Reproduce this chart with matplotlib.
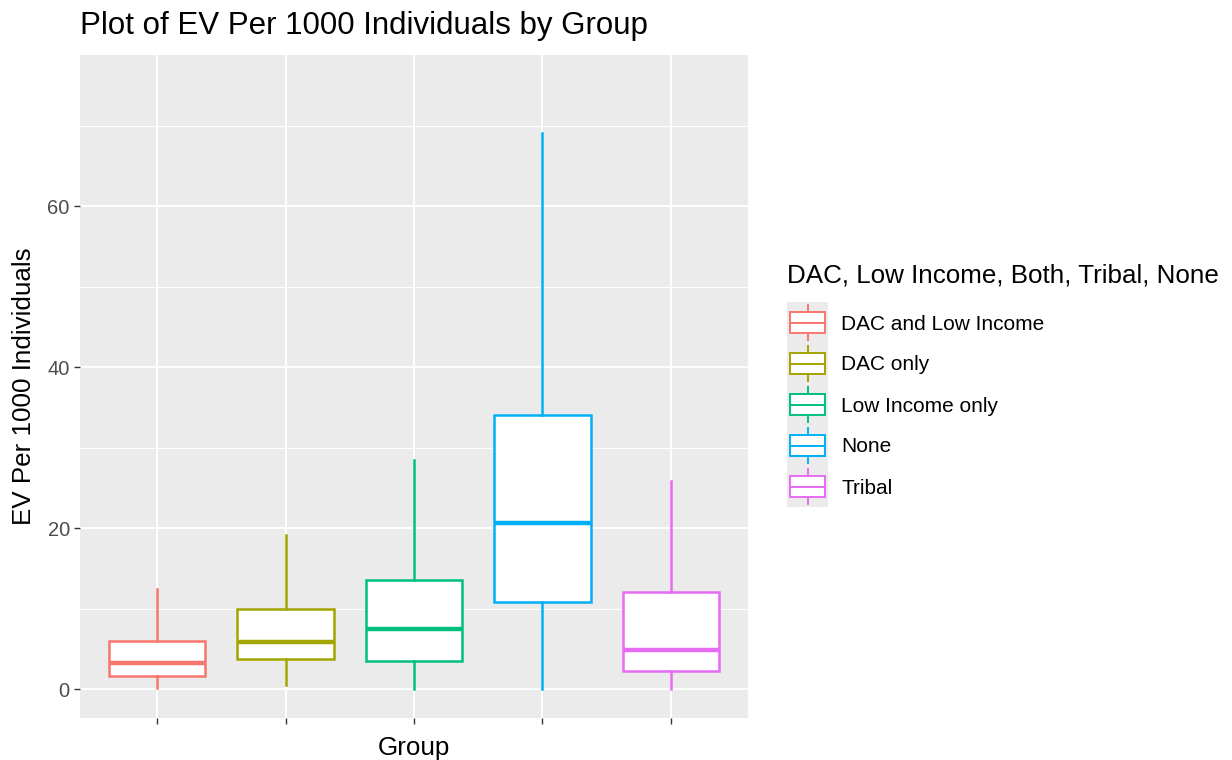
import matplotlib
matplotlib.use("Agg")
import matplotlib.pyplot as plt
from matplotlib.patches import Rectangle
from matplotlib.ticker import MultipleLocator

plt.rcParams['font.family'] = ['Liberation Sans', 'DejaVu Sans']

# box summaries read per group: whisker low, Q1, median, Q3, whisker high
groups = ['DAC and Low Income', 'DAC only', 'Low Income only', 'None', 'Tribal']
whis_lo = [0.1, 0.55, 0.0, 0.0, 0.0]
q1 = [1.6, 3.7, 3.5, 10.8, 2.2]
median = [3.2, 5.8, 7.5, 20.6, 4.9]
q3 = [6.0, 10.0, 13.5, 34.1, 12.0]
whis_hi = [12.4, 19.1, 28.5, 69.1, 25.9]
colors = ['#F8766D', '#A3A500', '#00BF7D', '#00B0F6', '#E76BF3']

W, H = 1232, 760
fig = plt.figure(figsize=(W / 100, H / 100), dpi=100)
ax = fig.add_axes([80 / W, 1 - 718 / H, (748 - 80) / W, (718 - 55) / H])
ax.set_facecolor('#EBEBEB')
for s in ax.spines.values():
    s.set_visible(False)

stats = []
for i, g in enumerate(groups):
    stats.append(dict(label=g, whislo=whis_lo[i], q1=q1[i], med=median[i],
                      q3=q3[i], whishi=whis_hi[i], fliers=[]))

positions = list(range(1, len(groups) + 1))
bp = ax.bxp(stats, positions=positions, widths=0.75, showcaps=False,
            showfliers=False, patch_artist=True, zorder=3)
for i, c in enumerate(colors):
    bp['boxes'][i].set(facecolor='white', edgecolor=c, linewidth=1.8)
    bp['medians'][i].set(color=c, linewidth=3.2, solid_capstyle='butt')
    for w in bp['whiskers'][2 * i:2 * i + 2]:
        w.set(color=c, linewidth=1.8)

ax.set_xlim(0.4, 5.6)
ax.set_ylim(-3.6, 78.8)
ax.yaxis.set_major_locator(MultipleLocator(20))
ax.yaxis.set_minor_locator(MultipleLocator(10))
ax.set_xticks(positions)
ax.set_xticklabels([])
ax.grid(which='major', color='white', linewidth=1.4, zorder=0)
ax.grid(which='minor', axis='y', color='white', linewidth=0.7, zorder=0)
ax.set_axisbelow(True)
ax.tick_params(which='major', length=4.3, width=1.0, color='#333333',
               labelcolor='#4D4D4D', labelsize=14.5, pad=3)
ax.tick_params(which='minor', length=0)

ax.set_xlabel('Group', fontsize=18.75, labelpad=6)
ax.set_ylabel('EV Per 1000 Individuals', fontsize=18.75, labelpad=8)
fig.text(80 / W, 1 - 26 / H, 'Plot of EV Per 1000 Individuals by Group',
         fontsize=22.5, va='center', ha='left')

# legend: box glyph keys on a grey strip with labels to the right
fig.text(787 / W, 1 - 276 / H, 'DAC, Low Income, Both, Tribal, None',
         fontsize=18.75, va='center', ha='left')
lax = fig.add_axes([787 / W, 1 - 507 / H, 41 / W, 205 / H])
lax.set_xlim(0, 1)
lax.set_ylim(0, len(groups))
lax.axis('off')
lax.add_patch(Rectangle((0, 0), 1, len(groups), facecolor='#EBEBEB',
                        edgecolor='none', zorder=0))
for i, (g, c) in enumerate(zip(groups, colors)):
    yc = len(groups) - i - 0.5
    lax.plot([0.5, 0.5], [yc - 0.42, yc + 0.42], color=c, linewidth=1.4, zorder=1)
    lax.add_patch(Rectangle((0.08, yc - 0.25), 0.84, 0.5, facecolor='white',
                            edgecolor=c, linewidth=1.4, zorder=2))
    lax.plot([0.08, 0.92], [yc, yc], color=c, linewidth=1.4, zorder=3)
    fig.text(841 / W, 1 - (324 + 41 * i) / H, g, fontsize=15,
             va='center', ha='left')

fig.savefig('out.png', dpi=100)
